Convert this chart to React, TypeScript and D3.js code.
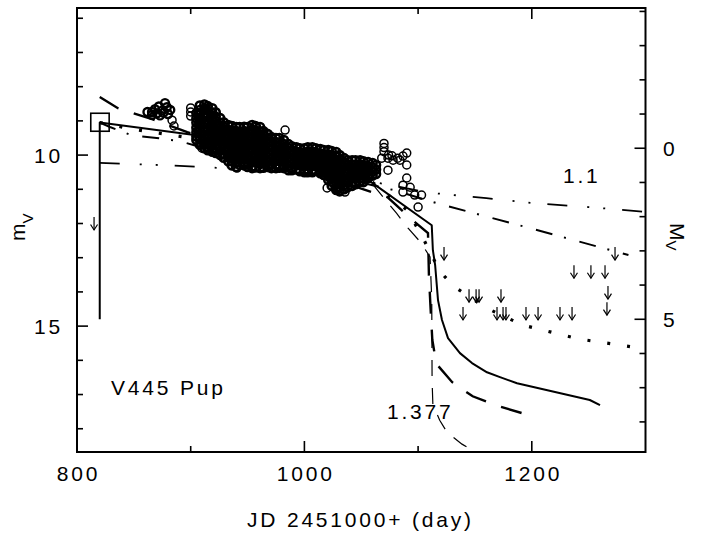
import React from 'react';
import * as d3 from 'd3';

const W = 712;
const H = 535;

// axes
const xDomain: [number, number] = [800, 1300];
const mDomain: [number, number] = [5.7, 18.68];
const absOffset = 9.8; // M_V = m_V - 9.8
const xMajorTicks = [800, 1000, 1200];
const xMinorTicks = [900, 1100];
const mMajorTicks = [10, 15];
const mMinorTicks = [6, 7, 8, 9, 11, 12, 13, 14, 16, 17, 18];
const MMajorTicks = [0, 5];
const MMinorTicks = [-4, -3, -2, -1, 1, 2, 3, 4, 6, 7, 8];

// model light curves [day, m_V]
const solidModel: [number, number][] = [
  [820, 14.8], [820, 9.05], [905, 9.42], [1024, 10.23], [1045, 10.5], [1060, 10.82],
  [1112, 12.05], [1113, 12.78], [1115, 13.22], [1117.5, 14.24], [1121, 14.82], [1126.3, 15.35],
  [1136.8, 15.79], [1147.4, 16.08], [1160.6, 16.35], [1172, 16.49], [1187, 16.67],
  [1251, 17.16], [1260, 17.31],
];
const longDashModel: [number, number][] = [
  [820, 8.3], [836, 8.63], [866, 8.95], [897, 9.33], [1000, 10.43], [1073, 11.23],
  [1095, 11.9], [1108.7, 12.28], [1109.5, 13.5], [1111, 14.5], [1112.5, 15.4], [1116, 16.1],
  [1130, 16.64], [1148, 17.05], [1168, 17.31], [1191, 17.54],
];
const thinDashModel: [number, number][] = [
  [1060, 10.85], [1081, 11.7], [1091, 12.13], [1102, 12.54], [1110.5, 12.98], [1112, 14.2],
  [1112.3, 16.6], [1113, 17.3], [1119, 17.75], [1125.4, 18.1], [1138.6, 18.45], [1156, 18.8],
];
const dashDotModel: [number, number][] = [
  [820, 9.05], [829, 9.18], [848, 9.42], [870, 9.5], [890, 9.59], [903, 9.71], [1000, 10.42],
  [1078, 11.02], [1119, 11.43], [1200, 12.15], [1276, 12.84], [1285, 12.92],
];
const dashDotDotModel: [number, number][] = [
  [820, 10.23], [880, 10.3], [940, 10.4], [1000, 10.55], [1060, 10.78], [1110, 11.1],
  [1160, 11.26], [1200, 11.4], [1250, 11.52], [1300, 11.66],
];
const dottedModel: [number, number][] = [
  [820, 9.05], [850, 9.25], [900, 9.5], [960, 9.85], [1020, 10.3], [1060, 10.8], [1090, 11.6],
  [1103, 12.34], [1119, 13.39], [1131, 13.83], [1160, 14.47], [1192, 14.97], [1242, 15.38],
  [1297, 15.65],
];

// observations: dense band columns
const bandDays = [905, 908, 912, 915, 919, 922, 926, 929, 933, 936, 940, 943, 947, 950, 954, 957,
  961, 964, 968, 971, 975, 978, 982, 986, 989, 993, 996, 1000, 1003, 1007, 1010, 1014, 1017, 1021,
  1024, 1028, 1031, 1035, 1038, 1042, 1045, 1049, 1052, 1056, 1060, 1063];
const bandMags: number[][] = [
  [8.78, 8.92, 9.05, 9.2, 9.33, 9.46, 9.56],
  [8.55, 8.68, 8.82, 8.95, 9.1, 9.24, 9.38, 9.52, 9.7],
  [8.52, 8.64, 8.78, 8.9, 9.04, 9.18, 9.3, 9.44, 9.58, 9.7, 9.8],
  [8.57, 8.7, 8.84, 8.98, 9.12, 9.26, 9.4, 9.53, 9.66, 9.78, 9.86],
  [8.63, 8.76, 8.9, 9.02, 9.16, 9.3, 9.44, 9.58, 9.72, 9.84, 9.9],
  [8.75, 8.88, 9.0, 9.14, 9.28, 9.42, 9.55, 9.68, 9.8, 9.94],
  [8.92, 9.06, 9.2, 9.33, 9.47, 9.6, 9.74, 9.87, 10.0],
  [9.04, 9.17, 9.3, 9.44, 9.57, 9.7, 9.83, 9.96, 10.08],
  [9.12, 9.26, 9.4, 9.52, 9.65, 9.78, 9.9, 10.04, 10.18],
  [9.15, 9.28, 9.42, 9.55, 9.68, 9.8, 9.94, 10.06, 10.18, 10.3],
  [9.18, 9.3, 9.44, 9.57, 9.7, 9.84, 9.97, 10.1, 10.22, 10.35],
  [9.18, 9.32, 9.46, 9.6, 9.72, 9.85, 9.98, 10.12, 10.28],
  [9.17, 9.3, 9.43, 9.56, 9.7, 9.83, 9.96, 10.1, 10.22, 10.3],
  [9.18, 9.32, 9.45, 9.58, 9.72, 9.86, 10.0, 10.12, 10.25, 10.35],
  [9.12, 9.25, 9.38, 9.52, 9.66, 9.8, 9.93, 10.06, 10.2, 10.33, 10.38],
  [9.15, 9.28, 9.42, 9.55, 9.68, 9.82, 9.95, 10.08, 10.22, 10.36],
  [9.18, 9.32, 9.46, 9.6, 9.73, 9.86, 10.0, 10.13, 10.26, 10.38],
  [9.3, 9.43, 9.56, 9.7, 9.83, 9.96, 10.1, 10.24, 10.37],
  [9.39, 9.52, 9.65, 9.78, 9.92, 10.05, 10.18, 10.3, 10.35],
  [9.47, 9.6, 9.73, 9.86, 10.0, 10.12, 10.25, 10.38],
  [9.5, 9.62, 9.75, 9.88, 10.02, 10.15, 10.28, 10.38],
  [9.5, 9.63, 9.76, 9.9, 10.04, 10.17, 10.3, 10.37],
  [9.56, 9.68, 9.8, 9.94, 10.07, 10.2, 10.32, 10.38],
  [9.68, 9.8, 9.93, 10.06, 10.19, 10.32, 10.44],
  [9.74, 9.86, 9.99, 10.12, 10.25, 10.38, 10.44],
  [9.77, 9.9, 10.03, 10.16, 10.29, 10.42],
  [9.8, 9.92, 10.05, 10.18, 10.3, 10.44, 10.47],
  [9.8, 9.93, 10.06, 10.2, 10.33, 10.46, 10.5],
  [9.77, 9.9, 10.03, 10.16, 10.3, 10.42, 10.5],
  [9.77, 9.9, 10.04, 10.18, 10.31, 10.44, 10.5],
  [9.8, 9.93, 10.06, 10.2, 10.33, 10.46],
  [9.82, 9.95, 10.08, 10.22, 10.35, 10.48, 10.53],
  [9.85, 9.98, 10.12, 10.25, 10.38, 10.5, 10.58],
  [9.85, 9.98, 10.1, 10.24, 10.37, 10.5, 10.62, 10.73],
  [9.88, 10.0, 10.13, 10.27, 10.4, 10.53, 10.66, 10.78, 10.9],
  [9.91, 10.04, 10.17, 10.3, 10.43, 10.56, 10.7, 10.83, 10.96, 11.02],
  [10.0, 10.13, 10.26, 10.4, 10.53, 10.66, 10.8, 10.93, 11.06],
  [10.09, 10.22, 10.35, 10.48, 10.62, 10.75, 10.88, 11.0],
  [10.15, 10.28, 10.4, 10.54, 10.67, 10.8, 10.94],
  [10.15, 10.28, 10.42, 10.55, 10.68, 10.8, 10.9],
  [10.15, 10.28, 10.41, 10.54, 10.67, 10.8, 10.85],
  [10.15, 10.27, 10.4, 10.53, 10.66, 10.78],
  [10.18, 10.3, 10.43, 10.56, 10.69, 10.79],
  [10.2, 10.33, 10.46, 10.58, 10.67],
  [10.23, 10.36, 10.48, 10.6],
  [10.29, 10.42, 10.55],
];
// observations: early dense cluster
const earlyObs: [number, number][] = [
  [862, 8.74], [866, 8.74], [868.6, 8.66], [872, 8.58], [877.4, 8.48], [879, 8.6], [882, 8.68],
  [874.8, 8.7], [870.4, 8.78], [873, 8.84], [876, 8.76], [866, 8.82], [880, 8.8],
];
// observations: sparse points
const sparseObs: [number, number][] = [
  [883.6, 8.98], [885.3, 9.15],
  [900, 8.62], [900, 8.74], [900, 8.86],
  [910, 9.8], [937, 9.15], [940.7, 10.38], [958, 9.18], [967, 9.36], [983, 9.27],
  [1020, 10.96], [1029.5, 11.02], [1035.7, 11.08],
  [1070, 9.66], [1070, 9.78], [1070, 9.9], [1068, 10.09], [1073.5, 10.09], [1078, 10.15],
  [1082, 10.09], [1086.7, 10.03], [1090, 9.94], [1074, 10.0], [1077, 10.02], [1084, 10.15],
  [1073.5, 10.44], [1090, 10.29], [1090, 10.67], [1086.7, 10.88], [1093, 10.94],
  [1086.7, 11.08], [1097, 11.17], [1103, 11.17], [1100, 11.52],
];
// upper limits [day, m_V at top of arrow]
const upperLimits: [number, number][] = [
  [815, 11.81], [1122.8, 12.69], [1237.1, 13.22], [1252, 13.22], [1264.4, 13.22], [1273.2, 12.69],
  [1267, 13.83], [1266.1, 14.3], [1144.8, 13.92], [1151, 13.92], [1153.6, 13.92], [1172.9, 13.92],
  [1139.5, 14.44], [1169.4, 14.44], [1174.7, 14.44], [1177.3, 14.44], [1194.9, 14.44],
  [1205.5, 14.44], [1224.8, 14.44], [1235.4, 14.44],
];
const startPoint: [number, number] = [820.2, 9.04];

const FONT = "'Liberation Sans', Arial, Helvetica, sans-serif";

export default function App() {
  const x = d3.scaleLinear().domain(xDomain).range([77, 645.5]);
  const y = d3.scaleLinear().domain(mDomain).range([8, 452]);
  const yAbs = (M: number) => y(M + absOffset);
  const line = d3.line<[number, number]>().x((d) => x(d[0])).y((d) => y(d[1]));
  const [x0, x1] = x.range();
  const [y0, y1] = y.range();

  const textStyle: React.CSSProperties = { fontFamily: FONT, fontSize: 21, letterSpacing: 2.8 };

  const bandCircles: [number, number][] = [];
  bandDays.forEach((d, i) => bandMags[i].forEach((m) => bandCircles.push([d, m])));

  return (
    <svg width={W} height={H} style={{ position: 'absolute', left: 0, top: 0, background: '#fff' }}>
      <defs>
        <clipPath id="plotClip">
          <rect x={x0} y={y0} width={x1 - x0} height={y1 - y0} />
        </clipPath>
      </defs>
      <rect x={0} y={0} width={W} height={H} fill="#fff" />
      <g clipPath="url(#plotClip)" fill="none" stroke="#000">
        <path d={line(dashDotDotModel) || ''} strokeWidth={1.8} strokeDasharray="20 20 2 14 2 17" />
        <path d={line(dashDotModel) || ''} strokeWidth={2} strokeDasharray="17 12 2 14" />
        <path d={line(dottedModel) || ''} strokeWidth={3.2} strokeDasharray="3 17" />
        <path d={line(longDashModel) || ''} strokeWidth={2.4} strokeDasharray="22 16" />
        <path d={line(thinDashModel) || ''} strokeWidth={1.2} strokeDasharray="16 12" />
        <path d={line(solidModel) || ''} strokeWidth={2} strokeLinejoin="round" />
        {bandCircles.map((p, i) => (
          <circle key={'b' + i} cx={x(p[0])} cy={y(p[1])} r={4} strokeWidth={2.6} />
        ))}
        {earlyObs.map((p, i) => (
          <circle key={'e' + i} cx={x(p[0])} cy={y(p[1])} r={4} strokeWidth={2.4} />
        ))}
        {sparseObs.map((p, i) => (
          <circle key={'s' + i} cx={x(p[0])} cy={y(p[1])} r={4} strokeWidth={1.5} />
        ))}
        <rect x={x(startPoint[0]) - 9.2} y={y(startPoint[1]) - 9} width={18.4} height={18} strokeWidth={1.6} />
        {upperLimits.map((p, i) => {
          const cx = x(p[0]);
          const cy = y(p[1]);
          return (
            <g key={i} strokeWidth={1.2}>
              <line x1={cx} y1={cy} x2={cx} y2={cy + 13} />
              <polyline points={`${cx - 3.5},${cy + 7.5} ${cx},${cy + 13} ${cx + 3.5},${cy + 7.5}`} />
            </g>
          );
        })}
      </g>
      {/* frame */}
      <rect x={x0} y={y0} width={x1 - x0} height={y1 - y0} fill="none" stroke="#000" strokeWidth={2} />
      <g stroke="#000" strokeWidth={1.6}>
        {xMajorTicks.map((t) => (
          <g key={'xM' + t}>
            <line x1={x(t)} x2={x(t)} y1={y1} y2={y1 - 11} />
            <line x1={x(t)} x2={x(t)} y1={y0} y2={y0 + 11} />
          </g>
        ))}
        {xMinorTicks.map((t) => (
          <g key={'xm' + t}>
            <line x1={x(t)} x2={x(t)} y1={y1} y2={y1 - 6} />
            <line x1={x(t)} x2={x(t)} y1={y0} y2={y0 + 6} />
          </g>
        ))}
        {mMajorTicks.map((t) => (
          <line key={'mM' + t} x1={x0} x2={x0 + 11} y1={y(t)} y2={y(t)} />
        ))}
        {mMinorTicks.map((t) => (
          <line key={'mm' + t} x1={x0} x2={x0 + 6} y1={y(t)} y2={y(t)} />
        ))}
        {MMajorTicks.map((t) => (
          <line key={'MM' + t} x1={x1} x2={x1 - 11} y1={yAbs(t)} y2={yAbs(t)} />
        ))}
        {MMinorTicks.map((t) => (
          <line key={'Mm' + t} x1={x1} x2={x1 - 6} y1={yAbs(t)} y2={yAbs(t)} />
        ))}
      </g>
      <g style={textStyle} fill="#000">
        {xMajorTicks.map((t) => (
          <text key={'xl' + t} x={x(t) + 1.4} y={481} textAnchor="middle">{t}</text>
        ))}
        {mMajorTicks.map((t) => (
          <text key={'ml' + t} x={34} y={y(t) + 7.5}>{t}</text>
        ))}
        {MMajorTicks.map((t) => (
          <text key={'Ml' + t} x={663} y={yAbs(t) + 7.5}>{t}</text>
        ))}
        <text x={247} y={527}>JD 2451000+ (day)</text>
        <text x={111} y={395}>V445 Pup</text>
        <text x={387} y={419}>1.377</text>
        <text x={563} y={183}>1.1</text>
        <text transform="translate(25,241) rotate(-90)" style={{ letterSpacing: 0 }}>
          m<tspan dy={8} fontSize={15}>V</tspan>
        </text>
        <text transform="translate(670,223) rotate(90)" style={{ letterSpacing: 0 }}>
          M<tspan dy={4} fontSize={15}>V</tspan>
        </text>
      </g>
    </svg>
  );
}
